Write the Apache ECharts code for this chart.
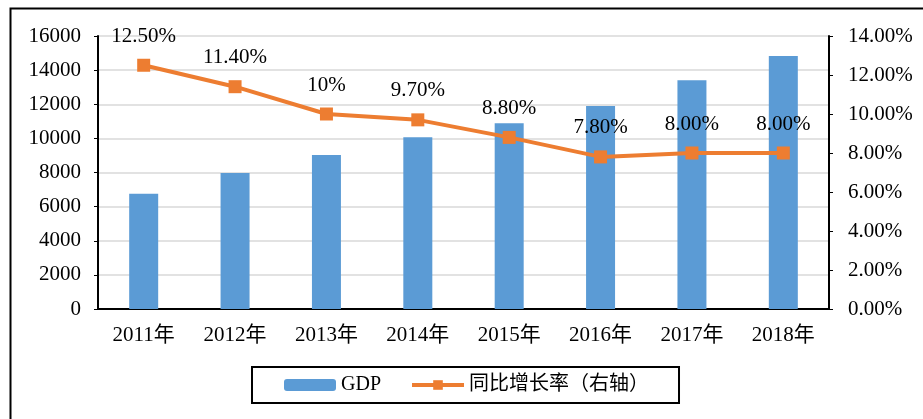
<html>
  <head>
    <meta charset="utf-8">
    <script src="https://cdn.jsdelivr.net/npm/echarts@6/dist/echarts.min.js"></script>
    <style>
      html, body { margin: 0; padding: 0; background: #fff; }
    </style>
  </head>
  <body>
    <div id="main" style="width:923px;height:419px;"></div>
    <script>
      var years = ['2011年', '2012年', '2013年', '2014年', '2015年', '2016年', '2017年', '2018年'];
      var gdp = [6750, 7970, 9030, 10060, 10880, 11900, 13400, 14830];
      var growth = [12.5, 11.4, 10, 9.7, 8.8, 7.8, 8.0, 8.0];
      var growthLabels = ['12.50%', '11.40%', '10%', '9.70%', '8.80%', '7.80%', '8.00%', '8.00%'];

      var font = "'Liberation Serif', 'Noto Sans CJK SC', serif";
      var fs = 21;
      var myChart = echarts.init(document.getElementById('main'));
      var option = {
          animation: false,
          textStyle: { fontFamily: font, color: '#000' },
          graphic: [{
              type: 'rect',
              left: 8, top: 6,
              shape: { width: 1000, height: 1000 },
              style: { fill: 'none', stroke: '#000', lineWidth: 2 }
          }],
          grid: { left: 98, right: 94, top: 36, bottom: 110 },
          legend: {
              data: ['GDP', { name: '同比增长率（右轴）', lineStyle: { width: 4 } }],
              left: 252, top: 367,
              padding: [8, 30, 8, 32],
              borderColor: '#000', borderWidth: 2,
              itemWidth: 52, itemHeight: 12, itemGap: 29,
              textStyle: { fontFamily: font, fontSize: 20, color: '#000' }
          },
          xAxis: {
              type: 'category',
              data: years,
              axisLine: { lineStyle: { color: '#000', width: 2 } },
              axisTick: { inside: true, length: 6, lineStyle: { color: '#000', width: 1.5 } },
              axisLabel: { fontSize: fs, color: '#000', fontFamily: font, margin: 16 }
          },
          yAxis: [{
              type: 'value', min: 0, max: 16000, interval: 2000,
              axisLine: { show: true, lineStyle: { color: '#000', width: 2 } },
              axisTick: { show: true, length: 4, lineStyle: { color: '#000' } },
              axisLabel: {
                  fontSize: fs, color: '#000', fontFamily: font, margin: 17,
                  formatter: function (v) { return String(v); }
              },
              splitLine: { lineStyle: { color: '#d9d9d9', width: 1.5 } }
          }, {
              type: 'value', min: 0, max: 14, interval: 2,
              axisLine: { show: true, lineStyle: { color: '#000', width: 2 } },
              axisTick: { show: true, length: 4, lineStyle: { color: '#000' } },
              axisLabel: {
                  fontSize: fs, color: '#000', fontFamily: font, margin: 19,
                  formatter: function (v) { return v.toFixed(2) + '%'; }
              },
              splitLine: { show: false }
          }],
          series: [{
              name: 'GDP',
              type: 'bar',
              data: gdp,
              barWidth: 29,
              itemStyle: { color: '#5b9bd5' }
          }, {
              name: '同比增长率（右轴）',
              type: 'line',
              yAxisIndex: 1,
              data: growth,
              symbol: 'rect',
              symbolSize: 13,
              lineStyle: { color: '#ed7d31', width: 4 },
              itemStyle: { color: '#ed7d31' },
              label: {
                  show: true, position: 'top', distance: 12,
                  fontSize: fs, color: '#000', fontFamily: font,
                  formatter: function (p) { return growthLabels[p.dataIndex]; }
              }
          }]
      };
      myChart.setOption(option);
    </script>
  </body>
</html>
